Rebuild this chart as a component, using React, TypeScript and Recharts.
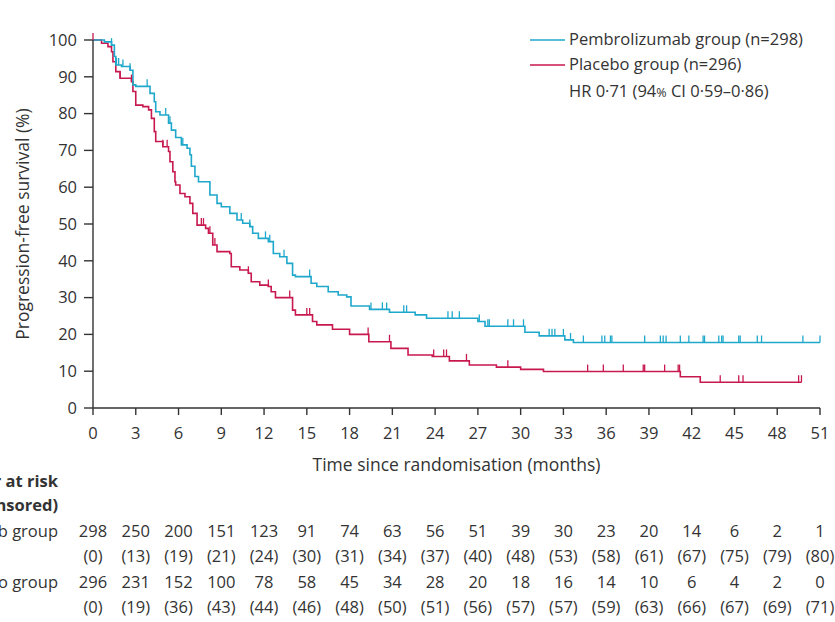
import { ComposedChart, Line, Scatter, XAxis, YAxis, Legend } from 'recharts'

const FONT = '"Open Sans", sans-serif'
const FS = 16.5
const TITLE_FS = 17.5
const INK = '#333'
const BLUE = '#1ea8cc'
const RED = '#c8194f'

const months = [0, 3, 6, 9, 12, 15, 18, 21, 24, 27, 30, 33, 36, 39, 42, 45, 48, 51]
const yTicks = [0, 10, 20, 30, 40, 50, 60, 70, 80, 90, 100]

// pembrolizumab KM steps
const pembroTime = [0, 0.8, 1.3, 1.5, 1.6, 2.0, 2.6, 2.8, 3.0, 4.0, 4.3, 4.4, 4.7, 5.3, 5.5, 5.8, 6.2, 6.6, 6.8, 6.9, 7.15, 7.4, 8.2, 8.7, 9.0, 9.6, 10.1, 10.5, 11.0, 11.2, 11.6, 12.3, 12.65, 13.1, 13.6, 14.0, 14.2, 15.3, 15.7, 16.5, 17.2, 17.8, 18.1, 19.4, 20.8, 22.6, 23.4, 27.0, 27.5, 30.3, 31.3, 33.1, 33.7, 51]
const pembroSurv = [100, 99.5, 98.6, 95.5, 93.2, 92.8, 91.8, 87.8, 87.4, 85.5, 83.2, 80.5, 79.6, 77.4, 75.5, 73.5, 71.5, 70.6, 68.8, 65.7, 62.9, 61.5, 57.9, 55.6, 54.7, 52.9, 51.1, 50.2, 49.3, 47.5, 46.1, 45.2, 42.0, 41.1, 39.3, 36.1, 35.7, 33.9, 33.0, 31.6, 30.7, 30.2, 27.7, 26.8, 26.0, 25.3, 24.4, 23.5, 22.2, 20.6, 19.6, 18.5, 17.8, 17.8]
const pembroCensor = [1.3, 1.65, 1.8, 2.1, 2.6, 3.8, 5.1, 5.4, 6.3, 10.4, 11.0, 12.1, 12.4, 13.4, 15.2, 19.5, 20.3, 20.6, 21.8, 22.0, 24.9, 25.2, 25.7, 27.1, 27.7, 27.8, 29.1, 29.5, 30.2, 32.0, 32.2, 32.4, 33.0, 33.5, 34.4, 35.7, 35.9, 36.3, 36.4, 38.7, 39.8, 40.0, 40.2, 41.2, 41.8, 42.8, 42.9, 43.9, 44.1, 44.2, 45.3, 45.4, 46.6, 46.9, 49.8, 51]

// placebo KM steps
const placeboTime = [0, 0.6, 1.05, 1.3, 1.4, 1.6, 1.9, 2.7, 2.8, 3.0, 3.5, 3.9, 4.1, 4.3, 4.4, 4.9, 5.3, 5.4, 5.6, 5.75, 5.8, 6.1, 6.45, 6.8, 7.0, 7.3, 7.9, 8.1, 8.4, 8.7, 9.6, 9.7, 10.3, 10.9, 11.1, 11.7, 12.3, 12.5, 12.8, 14.0, 14.2, 15.4, 15.7, 16.8, 18.0, 19.35, 20.9, 22.1, 23.8, 25.0, 26.4, 28.3, 30.0, 31.6, 41.2, 42.6, 49.7]
const placeboSurv = [100, 99.1, 98.2, 96.8, 94.1, 91.4, 89.6, 88.7, 86.0, 82.3, 81.9, 81.0, 78.7, 75.1, 72.4, 71.0, 69.7, 66.9, 64.2, 61.5, 60.6, 58.3, 57.4, 55.6, 52.9, 49.7, 48.8, 47.5, 44.3, 42.5, 42.0, 38.4, 37.5, 36.6, 34.3, 33.4, 33.0, 31.6, 30.0, 26.6, 25.3, 23.5, 22.6, 21.4, 20.0, 18.0, 16.2, 14.4, 14.0, 12.8, 11.7, 11.1, 10.5, 9.9, 8.5, 7.0, 7.0]
const placeboCensor = [0, 1.9, 2.7, 4.9, 5.2, 7.6, 7.75, 8.2, 8.55, 10.9, 12.3, 13.8, 15.0, 15.2, 19.3, 20.8, 23.9, 24.6, 24.8, 26.2, 29.1, 34.7, 35.8, 37.2, 38.6, 38.7, 40.1, 41.05, 41.15, 44.0, 45.3, 45.6, 49.5, 49.7]

const pembroAtRisk = [298, 250, 200, 151, 123, 91, 74, 63, 56, 51, 39, 30, 23, 20, 14, 6, 2, 1]
const pembroCensored = [0, 13, 19, 21, 24, 30, 31, 34, 37, 40, 48, 53, 58, 61, 67, 75, 79, 80]
const placeboAtRisk = [296, 231, 152, 100, 78, 58, 45, 34, 28, 20, 18, 16, 14, 10, 6, 4, 2, 0]
const placeboCensored = [0, 19, 36, 43, 44, 46, 48, 50, 51, 56, 57, 57, 59, 63, 66, 67, 69, 71]

const toPoints = (ts: number[], vs: number[]) => ts.map((t, i) => ({ t, v: vs[i] }))

function survAt(ts: number[], vs: number[], t: number) {
  let v = vs[0]
  ts.forEach((x, i) => {
    if (x <= t) v = vs[i]
  })
  return v
}

const pembroData = toPoints(pembroTime, pembroSurv)
const placeboData = toPoints(placeboTime, placeboSurv)
const pembroMarks = pembroCensor.map((t) => ({ t, v: survAt(pembroTime, pembroSurv, t) }))
const placeboMarks = placeboCensor.map((t) => ({ t, v: survAt(placeboTime, placeboSurv, t) }))
// invisible anchor so the at-risk axis gets a domain
const riskAnchor = months.map((t) => ({ t, v: 0 }))

const CensorMark = (props: any) => {
  const { cx, cy, fill } = props
  return <line x1={cx} x2={cx} y1={cy} y2={cy - 7} stroke={fill} strokeWidth={1.3} />
}

const RiskTick = (props: any) => {
  const { x, y, payload } = props
  const i = months.indexOf(payload.value)
  if (i < 0) return <g />
  return (
    <g fontFamily={FONT} fontSize={FS} fill={INK}>
      {i === 0 && (
        <g textAnchor="end">
          <text x={x - 35} y={y + 9} fontWeight="bold">Number at risk</text>
          <text x={x - 35} y={y + 33} fontWeight="bold">(number censored)</text>
          <text x={x - 35} y={y + 59}>Pembrolizumab group</text>
          <text x={x - 35} y={y + 110}>Placebo group</text>
        </g>
      )}
      <g textAnchor="middle">
        <text x={x} y={y + 59}>{pembroAtRisk[i]}</text>
        <text x={x} y={y + 84}>({pembroCensored[i]})</text>
        <text x={x} y={y + 110}>{placeboAtRisk[i]}</text>
        <text x={x} y={y + 135}>({placeboCensored[i]})</text>
      </g>
    </g>
  )
}

const KeyBox = () => (
  <svg width={315} height={90} style={{ overflow: 'visible' }}>
    <g fontFamily={FONT} fontSize={FS} fill={INK}>
      <line x1={10} x2={45} y1={15} y2={15} stroke={BLUE} strokeWidth={1.3} />
      <text x={49} y={20}>Pembrolizumab group (n=298)</text>
      <line x1={10} x2={45} y1={40} y2={40} stroke={RED} strokeWidth={1.3} />
      <text x={49} y={45}>Placebo group (n=296)</text>
      <text x={49} y={72}>
        HR 0·71 (94<tspan fontSize={12.5}>%</tspan> CI 0·59–0·86)
      </text>
    </g>
  </svg>
)

const YTitle = (props: any) => {
  const vb = props.viewBox || { x: 0, y: 40, height: 368 }
  const cx = 22
  const cy = vb.y + vb.height / 2
  return (
    <text
      x={cx}
      y={cy}
      transform={`rotate(-90, ${cx}, ${cy})`}
      textAnchor="middle"
      dominantBaseline="central"
      fontFamily={FONT}
      fontSize={TITLE_FS}
      fill={INK}
    >
      Progression-free survival (%)
    </text>
  )
}

export default function App() {
  return (
    <div style={{ position: 'absolute', left: 0, top: 0, width: 835, height: 622, background: '#fff' }}>
      <ComposedChart width={835} height={622} margin={{ top: 40, right: 15, bottom: 0, left: 0 }}>
        <XAxis
          type="number"
          dataKey="t"
          domain={[0, 51]}
          ticks={months}
          interval={0}
          height={70}
          tickSize={7}
          tickMargin={12}
          stroke={INK}
          strokeWidth={1.4}
          tick={{ fill: INK, fontSize: FS, fontFamily: FONT }}
          label={{
            value: 'Time since randomisation (months)',
            position: 'insideBottom',
            offset: 7,
            fill: INK,
            fontSize: TITLE_FS,
            fontFamily: FONT
          }}
        />
        <XAxis
          xAxisId="risk"
          type="number"
          dataKey="t"
          domain={[0, 51]}
          ticks={months}
          interval={0}
          height={144}
          axisLine={false}
          tickLine={false}
          tickSize={0}
          tickMargin={0}
          tick={RiskTick}
        />
        <YAxis
          type="number"
          domain={[0, 100]}
          ticks={yTicks}
          interval={0}
          width={93}
          tickSize={9}
          tickMargin={7}
          stroke={INK}
          strokeWidth={1.4}
          tick={{ fill: INK, fontSize: FS, fontFamily: FONT }}
          label={<YTitle />}
        />
        <Legend
          layout="vertical"
          align="center"
          verticalAlign="middle"
          content={<KeyBox />}
          wrapperStyle={{ position: 'absolute', left: 520, top: 25, width: 315, height: 90 }}
        />
        <Line
          xAxisId="risk"
          data={riskAnchor}
          dataKey="v"
          stroke="none"
          dot={false}
          activeDot={false}
          legendType="none"
          isAnimationActive={false}
        />
        <Line
          data={placeboData}
          dataKey="v"
          type="stepAfter"
          stroke={RED}
          strokeWidth={1.6}
          dot={false}
          isAnimationActive={false}
        />
        <Line
          data={pembroData}
          dataKey="v"
          type="stepAfter"
          stroke={BLUE}
          strokeWidth={1.6}
          dot={false}
          isAnimationActive={false}
        />
        <Scatter data={placeboMarks} dataKey="v" fill={RED} shape={<CensorMark />} isAnimationActive={false} />
        <Scatter data={pembroMarks} dataKey="v" fill={BLUE} shape={<CensorMark />} isAnimationActive={false} />
      </ComposedChart>
    </div>
  )
}
